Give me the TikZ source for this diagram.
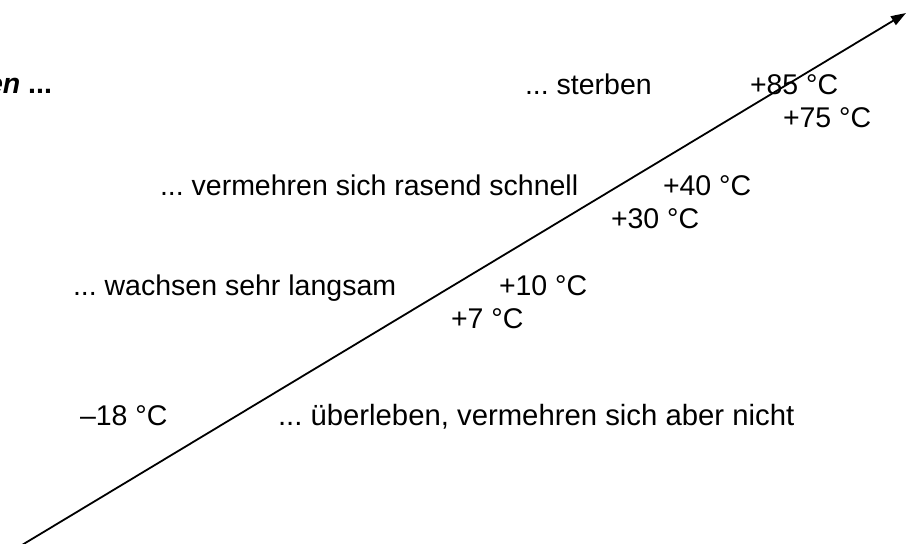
\documentclass[tikz,border=0pt]{standalone}
\usepackage{fontspec}
\setmainfont{Liberation Sans}
\usetikzlibrary{arrows.meta}
\frenchspacing
\begin{document}
\begin{tikzpicture}[x=1pt,y=-1pt,
  lbl/.style={anchor=base west,inner sep=0pt,outer sep=0pt,font=\fontsize{28.5}{34}\selectfont},
  axis/.style={line width=1.8pt,-{Triangle[length=15pt,width=10pt]}}]
\useasboundingbox (0,0) rectangle (906,544);
\node[lbl,anchor=base east] (head) at (52,93) {\bfseries\itshape en\upshape{} ...};
\node[lbl] (sterben) at (525,94) {... sterben};
\node[lbl] (t85) at (750,94) {+85 °C};
\node[lbl] (t75) at (783,127) {+75 °C};
\node[lbl] (schnell) at (160,195) {... vermehren sich rasend schnell};
\node[lbl] (t40) at (663,195) {+40 °C};
\node[lbl] (t30) at (611,228) {+30 °C};
\node[lbl] (langsam) at (73,295) {... wachsen sehr langsam};
\node[lbl] (t10) at (499,295) {+10 °C};
\node[lbl] (t7) at (451,328) {+7 °C};
\node[lbl] (t18) at (80,425) {–18 °C};
\node[lbl,font=\fontsize{29.3}{35}\selectfont] (ueber) at (278,425) {... überleben, vermehren sich aber nicht};
\coordinate (a0) at (22,545);
\coordinate (a1) at (906,13);
\draw[axis] (a0) -- (a1);
\end{tikzpicture}
\end{document}
